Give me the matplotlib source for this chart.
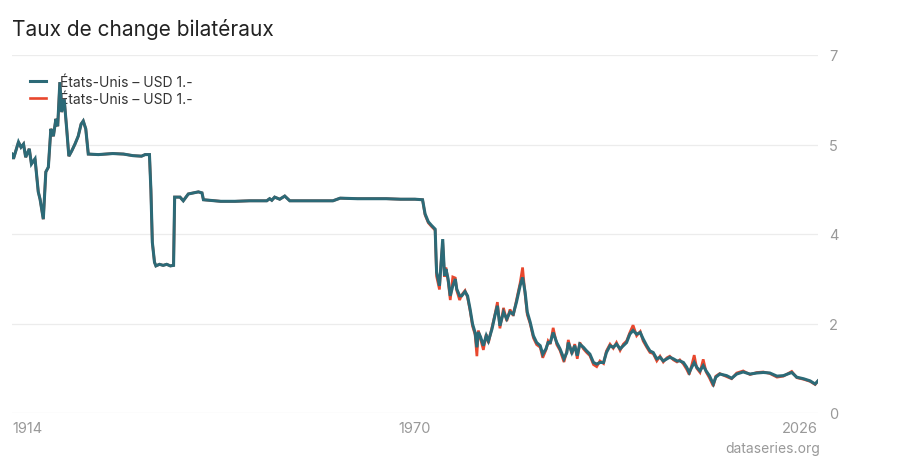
import matplotlib
matplotlib.use("Agg")
import matplotlib.pyplot as plt
import numpy as np

plt.rcParams['font.family'] = ['Inter', 'DejaVu Sans']

# ---- data (CHF per USD) ----
usd_years = [
    1914.0, 1914.2, 1914.9, 1915.25, 1915.6, 1915.9, 1916.4, 1916.7, 1917.2, 1917.65,
    1917.9, 1918.35, 1918.7, 1919.05, 1919.4, 1919.75, 1920.1, 1920.35, 1920.65, 1920.9,
    1921.25, 1921.6, 1921.9, 1922.3, 1922.75, 1923.2, 1923.6, 1923.9, 1924.25, 1924.6,
    1926.0, 1928.0, 1929.5, 1930.8, 1932.0, 1932.5, 1933.1, 1933.3, 1933.5, 1933.8,
    1934.0, 1934.5, 1935.0, 1935.5, 1936.0, 1936.45, 1936.6, 1937.35, 1937.8, 1938.5,
    1939.9, 1940.4, 1940.6, 1943.0, 1945.0, 1947.0, 1949.4, 1949.8, 1950.1, 1950.5,
    1951.2, 1951.9, 1952.6, 1955.0, 1958.6, 1959.6, 1962.0, 1964.0, 1966.0, 1968.0,
    1970.0, 1971.05,
    1971.4, 1971.85, 1972.3, 1972.8, 1973.0, 1973.4, 1973.6, 1973.85, 1974.1, 1974.3,
    1974.6, 1974.9, 1975.25, 1975.6, 1975.8, 1976.2, 1976.5, 1976.95, 1977.3, 1977.65,
    1978.0, 1978.35, 1978.6, 1978.8, 1979.1, 1979.5, 1979.9, 1980.2, 1980.7, 1981.1,
    1981.45, 1981.8, 1982.3, 1982.75, 1983.2, 1983.65, 1984.1, 1984.6, 1984.95, 1985.3,
    1985.6, 1986.0, 1986.45, 1986.9, 1987.4, 1987.75, 1988.2, 1988.5, 1988.8, 1989.2,
    1989.7, 1990.15, 1990.7, 1991.1, 1991.3, 1991.8, 1992.2, 1992.55, 1992.9, 1993.4,
    1993.85, 1994.3, 1994.8, 1995.25, 1995.7, 1996.2, 1996.6, 1997.1, 1997.55, 1998.0,
    1998.5, 1998.95, 1999.4, 1999.85, 2000.3, 2000.8, 2001.3, 2001.7, 2002.2, 2002.65,
    2003.1, 2003.6, 2004.05, 2004.5, 2005.0, 2005.4, 2005.9, 2006.4, 2006.8, 2007.3,
    2007.75, 2008.1, 2008.45, 2008.8, 2009.15, 2009.6, 2010.05, 2010.45, 2010.9, 2011.45,
    2011.8, 2012.35, 2013.3, 2014.0, 2014.7, 2015.6, 2016.55, 2017.5, 2018.4, 2019.3,
    2020.3, 2021.2, 2022.35, 2023.05, 2024.0, 2024.9, 2025.6, 2026.0,
]
usd_avg = [
    5.18, 5.09, 5.41, 5.31, 5.37, 5.12, 5.28, 4.99, 5.09, 4.46,
    4.32, 3.94, 4.84, 4.93, 5.66, 5.52, 5.85, 5.71, 6.55, 5.98,
    6.23, 5.66, 5.14, 5.24, 5.37, 5.52, 5.75, 5.81, 5.66, 5.18,
    5.17, 5.19, 5.18, 5.15, 5.14, 5.17, 5.17, 4.50, 3.50, 3.12,
    3.05, 3.08, 3.06, 3.08, 3.05, 3.06, 4.36, 4.36, 4.29, 4.42,
    4.46, 4.44, 4.31, 4.28, 4.28, 4.29, 4.29, 4.33, 4.30, 4.36,
    4.32, 4.38, 4.29, 4.29, 4.29, 4.34, 4.33, 4.33, 4.33, 4.32,
    4.32, 4.31,
    4.04, 3.89, 3.82, 3.75, 2.93, 2.67, 3.05, 3.56, 2.86, 2.99,
    2.80, 2.48, 2.67, 2.80, 2.61, 2.48, 2.48, 2.56, 2.48, 2.23,
    1.94, 1.78, 1.50, 1.79, 1.70, 1.53, 1.72, 1.62, 1.85, 2.10,
    2.29, 1.91, 2.17, 2.04, 2.17, 2.13, 2.36, 2.67, 2.83, 2.55,
    2.17, 1.98, 1.72, 1.59, 1.53, 1.37, 1.47, 1.59, 1.59, 1.78,
    1.59, 1.47, 1.28, 1.40, 1.59, 1.40, 1.53, 1.34, 1.56, 1.50,
    1.43, 1.37, 1.21, 1.18, 1.21, 1.21, 1.40, 1.53, 1.50, 1.56,
    1.47, 1.53, 1.59, 1.75, 1.82, 1.75, 1.78, 1.66, 1.53, 1.43,
    1.40, 1.28, 1.31, 1.24, 1.28, 1.31, 1.28, 1.24, 1.24, 1.21,
    1.12, 1.02, 1.12, 1.21, 1.12, 1.05, 1.15, 1.05, 0.96, 0.80,
    0.93, 0.99, 0.96, 0.91, 0.99, 1.03, 0.99, 1.01, 1.02, 1.01,
    0.95, 0.96, 1.02, 0.93, 0.90, 0.86, 0.80, 0.86,
]
# second series (end-of-period), differs visibly only after 1971
usd_end_years = [
    1971.4, 1971.85, 1972.3, 1972.8, 1973.0, 1973.4, 1973.6, 1973.85, 1974.1, 1974.3,
    1974.6, 1974.9, 1975.25, 1975.6, 1975.8, 1976.2, 1976.5, 1976.95, 1977.3, 1977.65,
    1978.0, 1978.35, 1978.6, 1978.8, 1979.1, 1979.5, 1979.9, 1980.2, 1980.7, 1981.1,
    1981.45, 1981.8, 1982.3, 1982.75, 1983.2, 1983.65, 1984.1, 1984.6, 1984.95, 1985.3,
    1985.6, 1986.0, 1986.45, 1986.9, 1987.4, 1987.75, 1988.2, 1988.5, 1988.8, 1989.2,
    1989.7, 1990.15, 1990.7, 1991.1, 1991.3, 1991.8, 1992.2, 1992.55, 1992.9, 1993.4,
    1993.85, 1994.3, 1994.8, 1995.25, 1995.7, 1996.2, 1996.6, 1997.1, 1997.55, 1998.0,
    1998.5, 1998.95, 1999.4, 1999.85, 2000.3, 2000.8, 2001.3, 2001.7, 2002.2, 2002.65,
    2003.1, 2003.6, 2004.05, 2004.5, 2005.0, 2005.4, 2005.9, 2006.4, 2006.8, 2007.3,
    2007.75, 2008.1, 2008.45, 2008.8, 2009.15, 2009.6, 2010.05, 2010.45, 2010.9, 2011.45,
    2011.8, 2012.35, 2013.3, 2014.0, 2014.7, 2015.6, 2016.55, 2017.5, 2018.4, 2019.3,
    2020.3, 2021.2, 2022.35, 2023.05, 2024.0, 2024.9, 2025.6, 2026.0,
]
usd_end = [
    4.02, 3.87, 3.80, 3.73, 2.85, 2.60, 3.08, 3.50, 2.84, 3.02,
    2.76, 2.40, 2.84, 2.82, 2.58, 2.40, 2.50, 2.58, 2.45, 2.20,
    1.90, 1.74, 1.33, 1.82, 1.66, 1.45, 1.75, 1.58, 1.88, 2.12,
    2.36, 1.86, 2.25, 2.00, 2.22, 2.10, 2.40, 2.72, 3.02, 2.50,
    2.12, 1.95, 1.68, 1.55, 1.50, 1.30, 1.45, 1.62, 1.56, 1.87,
    1.55, 1.44, 1.22, 1.43, 1.64, 1.37, 1.56, 1.28, 1.59, 1.47,
    1.40, 1.34, 1.17, 1.13, 1.24, 1.19, 1.43, 1.56, 1.48, 1.59,
    1.44, 1.56, 1.62, 1.78, 1.92, 1.72, 1.80, 1.62, 1.50, 1.40,
    1.38, 1.24, 1.33, 1.22, 1.30, 1.33, 1.26, 1.22, 1.26, 1.18,
    1.08, 0.98, 1.16, 1.35, 1.10, 1.02, 1.27, 1.03, 0.92, 0.76,
    0.95, 1.00, 0.94, 0.90, 1.01, 1.05, 0.98, 1.02, 1.03, 1.00,
    0.93, 0.95, 1.04, 0.92, 0.89, 0.85, 0.79, 0.86,
]
series_labels = ["États-Unis – USD 1.-", "États-Unis – USD 1.-"]
series_colors = ["#2c6a77", "#e8472d"]
x_ticks = [1914, 1970, 2026]
x_tick_labels = ["1914", "1970", "2026"]
y_tick_labels = ["0", "2", "4", "5", "7"]
y_lim = (0.248, 7.067)

# ---- figure ----
fig = plt.figure(figsize=(9, 4.6), dpi=100)
ax = fig.add_axes([12/900, 1-414/460, (818-12)/900, (414-56)/460])

# red series underneath (pre-1971 part coincides with the teal one)
red_x = [y for y in usd_years if y < 1971.1] + usd_end_years
red_y = [v for y, v in zip(usd_years, usd_avg) if y < 1971.1] + usd_end
ax.plot(red_x, red_y, color=series_colors[1], lw=1.9, solid_joinstyle='miter',
        label=series_labels[1], zorder=2)
ax.plot(usd_years, usd_avg, color=series_colors[0], lw=2.2, solid_joinstyle='miter',
        label=series_labels[0], zorder=3)

ax.set_xlim(1914, 2026)
ax.set_ylim(*y_lim)

yt = np.linspace(y_lim[0], y_lim[1], len(y_tick_labels))
ax.set_yticks(yt)
ax.set_yticklabels(y_tick_labels)
ax.yaxis.tick_right()
ax.tick_params(axis='y', length=0, pad=8, labelsize=10.5, labelcolor='#999999')
ax.grid(axis='y', color='#ececec', lw=0.9)
ax.set_axisbelow(True)

ax.set_xticks(x_ticks)
ax.set_xticklabels(x_tick_labels)
ax.tick_params(axis='x', length=0, pad=6, labelsize=10.5, labelcolor='#999999')
xl = ax.get_xticklabels()
xl[0].set_horizontalalignment('left')
xl[-1].set_horizontalalignment('right')

for s in ax.spines.values():
    s.set_visible(False)

# legend
handles, labels = ax.get_legend_handles_labels()
leg = ax.legend(handles[::-1], labels[::-1], loc='upper left',
                bbox_to_anchor=(0.01, 0.972), frameon=False, fontsize=10,
                handlelength=1.2, handletextpad=1.0, labelspacing=0.25,
                borderaxespad=0.0, borderpad=0.7)
for t in leg.get_texts():
    t.set_color('#333333')
leg.set_zorder(1)

fig.text(12/900, 1-29/460, "Taux de change bilatéraux", fontsize=15,
         color='#222222', ha='left', va='center')
fig.text(820/900, 1-449/460, "dataseries.org", fontsize=10, color='#999999',
         ha='right', va='center')

fig.savefig("out.png", dpi=100)
